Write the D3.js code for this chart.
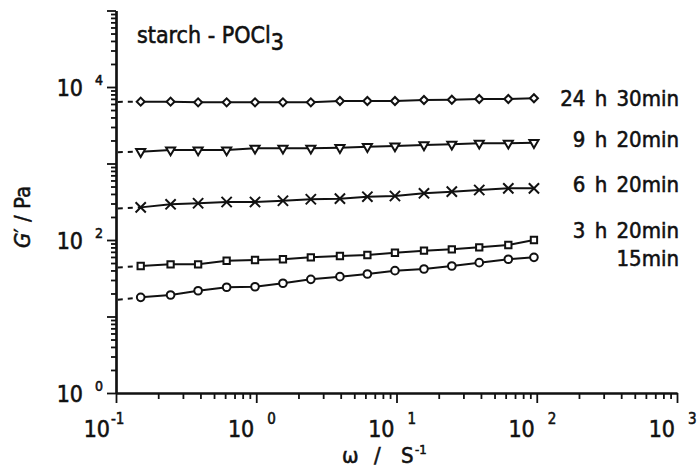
<!DOCTYPE html>
<html lang="en">
<head>
<meta charset="UTF-8">
<title>starch - POCl3</title>
<script src="https://cdnjs.cloudflare.com/ajax/libs/d3/7.8.5/d3.min.js"></script>
<style>
  body { margin: 0; background: #fff; }
  text { font-family: "DejaVu Sans Condensed", "Liberation Sans Narrow", "DejaVu Sans", sans-serif; fill: #111; stroke: #111; stroke-width: 0.55px; }
</style>
</head>
<body>
<script>
// angular frequency, omega / s^-1
var omega = [0.15, 0.245, 0.385, 0.615, 0.98, 1.55, 2.45, 3.95, 6.2, 9.75, 15.7, 24.8, 38.9, 62.7, 95.5];
// storage modulus G' / Pa for each reaction time
var g24h30 = [6425, 6425, 6310, 6310, 6310, 6310, 6310, 6560, 6560, 6560, 6760, 6820, 6970, 6970, 7120];
var g9h20  = [1427, 1500, 1500, 1500, 1580, 1580, 1580, 1610, 1660, 1693, 1745, 1783, 1837, 1837, 1871];
var g6h20  = [267, 293, 302, 314, 314, 326, 341, 347, 368, 376, 408, 428, 450, 474, 474];
var g3h20  = [45.7, 48.1, 48.1, 53.6, 54.8, 56, 59.4, 61.8, 63.7, 68.2, 72.5, 75.5, 80.3, 86.1, 100];
var g15    = [17.8, 19.1, 21.7, 24.1, 24.5, 27.2, 30.6, 33.2, 35.9, 39.7, 41.8, 45.7, 50.5, 56, 59.4];
var seriesLabels = ["24 h 30min", "9 h 20min", "6 h 20min", "3 h 20min", "15min"];
var xTickExps = [-1, 0, 1, 2, 3];
var yTickExps = [0, 2, 4];

var W = 697, H = 468;
var svg = d3.select("body").append("svg").attr("width", W).attr("height", H);

var x = d3.scaleLog().domain([0.1, 1000]).range([116, 677]);
var y = d3.scaleLog().domain([1, 1e5]).range([393, 10.5]);

// log ticks: majors at decades, minors 2..9
function minors(lo, hi) {
  var out = [];
  for (var e = lo; e < hi; e++) for (var k = 2; k <= 9; k++) out.push(k * Math.pow(10, e));
  return out;
}
function decades(lo, hi) { return d3.range(lo, hi + 1).map(function(e){ return Math.pow(10, e); }); }

function styleAxis(g) {
  g.selectAll("path.domain").attr("stroke", "#111").attr("stroke-width", 2.2);
  g.selectAll(".tick line").attr("stroke", "#111").attr("stroke-width", 1.8);
}

svg.append("g").attr("transform", "translate(0,393)")
  .call(d3.axisBottom(x).tickValues(minors(-1, 3)).tickSize(6).tickSizeOuter(0).tickFormat(""))
  .call(styleAxis);
svg.append("g").attr("transform", "translate(0,393)")
  .call(d3.axisBottom(x).tickValues(decades(-1, 3)).tickSize(10).tickSizeOuter(0).tickFormat(""))
  .call(styleAxis);
svg.append("g").attr("transform", "translate(116,0)")
  .call(d3.axisLeft(y).tickValues(minors(0, 5)).tickSize(5).tickSizeOuter(0).tickFormat(""))
  .call(styleAxis);
svg.append("g").attr("transform", "translate(116,0)")
  .call(d3.axisLeft(y).tickValues(decades(0, 5)).tickSize(9).tickSizeOuter(0).tickFormat(""))
  .call(styleAxis);

// x tick labels: "10" plus raised exponent
var xl = svg.append("g").selectAll("g").data(xTickExps).enter().append("g");
xl.append("text")
  .attr("x", function(e){ return x(Math.pow(10, e)) - (e < 0 ? 6 : 2); })
  .attr("y", 437).attr("text-anchor", "end").style("font-size", "23px")
  .text("10");
xl.append("text")
  .attr("x", function(e){ return x(Math.pow(10, e)) + (e < 0 ? -5 : 11); })
  .attr("y", 424).style("font-size", "15px")
  .text(function(e){ return e < 0 ? "-" + (-e) : e; });

// y tick labels
var yl = svg.append("g").selectAll("g").data(yTickExps).enter().append("g");
yl.append("text")
  .attr("x", 83).attr("y", function(e){ return y(Math.pow(10, e)) + 9; })
  .attr("text-anchor", "end").style("font-size", "23px")
  .text("10");
yl.append("text")
  .attr("x", 95).attr("y", function(e){ return y(Math.pow(10, e)) - 2; })
  .style("font-size", "14px")
  .text(function(e){ return e; });

// axis titles
svg.append("text").attr("x", 342).attr("y", 463).style("font-size", "22px").text("\u03c9");
svg.append("text").attr("x", 374).attr("y", 463).style("font-size", "22px").text("/");
svg.append("text").attr("x", 401).attr("y", 463).style("font-size", "22px").text("S");
svg.append("text").attr("x", 415).attr("y", 454).style("font-size", "13px").text("-1");

svg.append("text")
  .attr("transform", "translate(30,217) rotate(-90)")
  .attr("text-anchor", "middle").style("font-size", "22px")
  .html('<tspan font-style="italic">G</tspan>\u2032  /  Pa');

// title
var tt = svg.append("text").attr("x", 137).attr("y", 43).style("font-size", "23px");
tt.append("tspan").text("starch - POCl");
tt.append("tspan").attr("dy", 7).text("3");

// series
var series = [
  { vals: g24h30, sym: "diamond" },
  { vals: g9h20,  sym: "triangle" },
  { vals: g6h20,  sym: "times" },
  { vals: g3h20,  sym: "square" },
  { vals: g15,    sym: "circle" }
];
var labelDy = [8, 4, 4, -2, 9];

var line = d3.line()
  .x(function(d){ return x(d[0]); })
  .y(function(d){ return y(d[1]); });

function markerPath(sym) {
  if (sym === "diamond") return d3.symbol().type(d3.symbolSquare).size(32)();
  if (sym === "triangle") return d3.symbol().type(d3.symbolTriangle).size(36)();
  if (sym === "times") return d3.symbol().type(d3.symbolTimes).size(70)();
  if (sym === "square") return d3.symbol().type(d3.symbolSquare).size(40)();
  return d3.symbol().type(d3.symbolCircle).size(46)();
}
function markerRot(sym) {
  if (sym === "diamond") return " rotate(45)";
  if (sym === "triangle") return " rotate(180)";
  return "";
}

series.forEach(function(s, i) {
  var pts = omega.map(function(w, j){ return [w, s.vals[j]]; });
  var g = svg.append("g");
  // dashed extrapolation back to the axis, along the overall log-log slope
  var first = pts[0], last = pts[pts.length - 1];
  var slope = (Math.log10(last[1]) - Math.log10(first[1])) / (Math.log10(last[0]) - Math.log10(first[0]));
  var x0 = 0.103;
  var y0 = Math.pow(10, Math.log10(first[1]) + slope * (Math.log10(x0) - Math.log10(first[0])));
  g.append("path").attr("d", line([[x0, y0], first]))
    .attr("fill", "none").attr("stroke", "#111").attr("stroke-width", 2)
    .attr("stroke-dasharray", "5,5");
  g.append("path").attr("d", line(pts))
    .attr("fill", "none").attr("stroke", "#111").attr("stroke-width", 2);
  g.selectAll("path.mk").data(pts).enter().append("path")
    .attr("class", "mk")
    .attr("d", markerPath(s.sym))
    .attr("transform", function(d){ return "translate(" + x(d[0]) + "," + y(d[1]) + ")" + markerRot(s.sym); })
    .attr("fill", s.sym === "times" ? "none" : "#fff")
    .attr("stroke", "#111").attr("stroke-width", 2);
  svg.append("text")
    .attr("x", 679).attr("y", y(last[1]) + labelDy[i])
    .attr("text-anchor", "end").style("font-size", "22px").style("word-spacing", "3px")
    .text(seriesLabels[i]);
});
</script>
</body>
</html>
